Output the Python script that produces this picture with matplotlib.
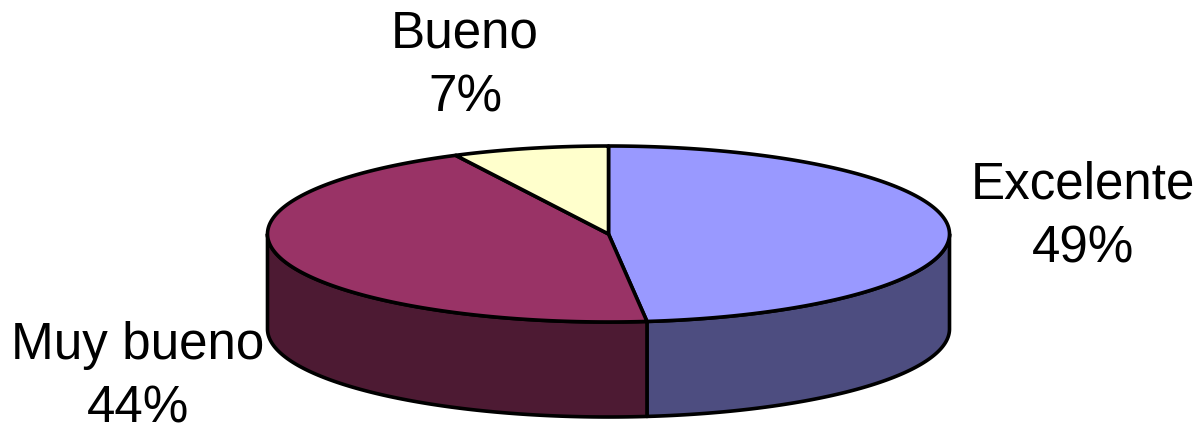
#!/usr/bin/env python3
# 3D looking pie chart, drawn with polygons in pixel coordinates
import numpy as np
import matplotlib
matplotlib.use("Agg")
import matplotlib.pyplot as plt
from matplotlib.patches import Polygon

# %% data
labels = ["Excelente", "Muy bueno", "Bueno"]
values = [48.2, 44.4, 7.4]  # read from the slice edges, the printed labels round differently
pct_text = ["49%", "44%", "7%"]

top_colors = ["#9999FF", "#993366", "#FFFFCC"]
side_colors = ["#4D4D80", "#4D1A33", "#80806A"]

# %% geometry of the disc
cx, cy = 608.5, 234
rx, ry = 341, 88
depth = 95
lw = 2.6
label_xy = [(1083, 217), (138, 377), (465, 66)]


def ell(theta):
    # theta clockwise from 12 o'clock, degrees
    t = np.radians(theta)
    return cx + rx*np.sin(t), cy - ry*np.cos(t)


plt.rcParams["font.family"] = ["Liberation Sans", "DejaVu Sans"]
fig = plt.figure(figsize=(12.02, 4.32), dpi=100)
ax = fig.add_axes([0, 0, 1, 1])
ax.set_xlim(0, 1202)
ax.set_ylim(432, 0)
ax.axis("off")

edges = np.concatenate([[0], np.cumsum(values)]) * 3.6

# side walls first, only the front half (90..270 deg) is visible
for k in range(len(values)):
    a, b = max(edges[k], 90), min(edges[k+1], 270)
    if b <= a:
        continue
    th = np.linspace(a, b, 120)
    x, y = ell(th)
    pts = np.column_stack([np.r_[x, x[::-1]], np.r_[y, y[::-1] + depth]])
    ax.add_patch(Polygon(pts, closed=True, fc=side_colors[k], ec="black", lw=lw, joinstyle="round"))

# top of the disc
for k in range(len(values)):
    th = np.linspace(edges[k], edges[k+1], 200)
    x, y = ell(th)
    pts = np.column_stack([np.r_[cx, x], np.r_[cy, y]])
    ax.add_patch(Polygon(pts, closed=True, fc=top_colors[k], ec="black", lw=lw, joinstyle="round"))

# labels
for k in range(len(labels)):
    ax.text(label_xy[k][0], label_xy[k][1], labels[k] + "\n" + pct_text[k],
            ha="center", va="center", fontsize=36.8, color="black", linespacing=1.38)

fig.savefig("out.png", dpi=100)
